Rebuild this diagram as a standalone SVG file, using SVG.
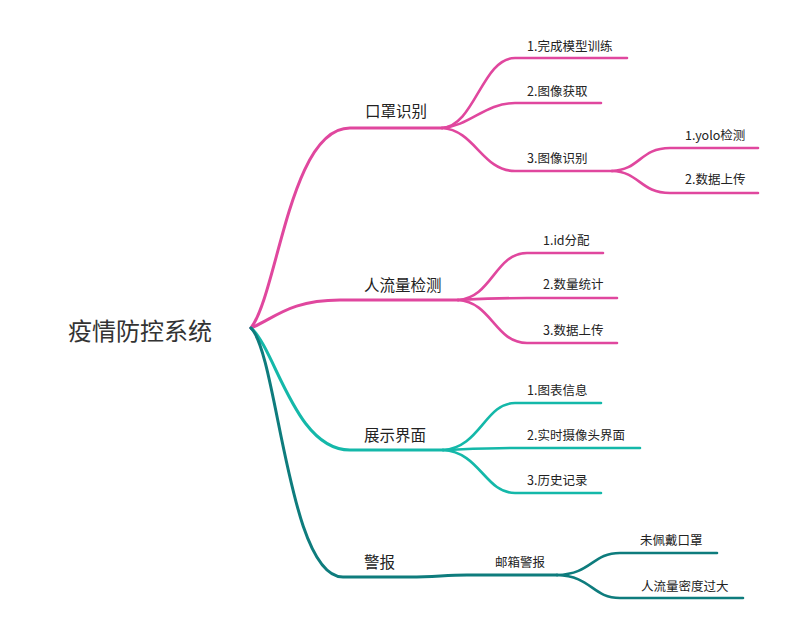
<svg xmlns="http://www.w3.org/2000/svg" width="786" height="629" viewBox="0 0 786 629">
<style>
  text { font-family: "Noto Sans CJK SC", "Noto Sans", sans-serif; fill: #222; }
  .root { font-size: 24px; fill: #333; }
  .l1 { font-size: 15.5px; }
  .l2 { font-size: 12.5px; }
  path { fill: none; stroke-linecap: round; }
  .pk { stroke: #E0479E; }
  .tl { stroke: #14B8A9; }
  .dt { stroke: #0E7C7D; }
  .w1 { stroke-width: 3; }
  .w2 { stroke-width: 2.6; }
</style>
<rect width="786" height="629" fill="#ffffff"/>
<g id="connectors">
  <path class="pk w1" d="M251 328 C278 292, 290 128, 350 128 L442 128"/>
  <path class="pk w1" d="M251 328 C275 318, 290 300, 340 300 L458 300"/>
  <path class="tl w1" d="M251 328 C276 350, 295 450, 350 450 L443 450"/>
  <path class="dt w1" d="M251 328 C278 355, 288 577, 343 577 L410 577 C435 577, 445 575, 467 575 L557 575"/>
  <path class="pk w2" d="M442 128 C475 126, 482 58, 515 58 L627 58"/>
  <path class="pk w2" d="M442 128 C470 126, 485 103, 515 103 L601 103"/>
  <path class="pk w2" d="M442 128 C475 130, 482 171, 515 171 L612 171"/>
  <path class="pk w2" d="M612 171 C640 170, 640 148, 670 148 L758 148"/>
  <path class="pk w2" d="M612 171 C640 172, 640 193, 670 193 L758 193"/>
  <path class="pk w2" d="M458 300 C492 298, 495 253, 527 253 L603 253"/>
  <path class="pk w2" d="M458 300 C480 299, 500 298, 527 298 L617 298"/>
  <path class="pk w2" d="M458 300 C492 302, 495 343, 527 343 L617 343"/>
  <path class="tl w2" d="M443 450 C480 448, 485 403, 515 403 L601 403"/>
  <path class="tl w2" d="M443 450 C470 449, 490 448, 515 448 L640 448"/>
  <path class="tl w2" d="M443 450 C480 452, 485 493, 515 493 L601 493"/>
  <path class="dt w2" d="M557 575 C592 574, 592 553, 620 553 L717 553"/>
  <path class="dt w2" d="M557 575 C592 576, 592 598, 620 598 L743 598"/>
</g>
<g id="root"><text class="root" x="68" y="340">疫情防控系统</text></g>
<g id="n-kouzhao"><text class="l1" x="365" y="117">口罩识别</text></g>
<g id="n-k1"><text class="l2" x="527" y="51">1.完成模型训练</text></g>
<g id="n-k2"><text class="l2" x="527" y="96">2.图像获取</text></g>
<g id="n-k3"><text class="l2" x="527" y="163">3.图像识别</text></g>
<g id="n-k31"><text class="l2" x="685" y="140">1.yolo检测</text></g>
<g id="n-k32"><text class="l2" x="685" y="184">2.数据上传</text></g>
<g id="n-renliu"><text class="l1" x="364" y="291">人流量检测</text></g>
<g id="n-r1"><text class="l2" x="543" y="245">1.id分配</text></g>
<g id="n-r2"><text class="l2" x="543" y="289">2.数量统计</text></g>
<g id="n-r3"><text class="l2" x="543" y="335">3.数据上传</text></g>
<g id="n-zhanshi"><text class="l1" x="364" y="441">展示界面</text></g>
<g id="n-z1"><text class="l2" x="527" y="395">1.图表信息</text></g>
<g id="n-z2"><text class="l2" x="527" y="440">2.实时摄像头界面</text></g>
<g id="n-z3"><text class="l2" x="527" y="485">3.历史记录</text></g>
<g id="n-jingbao"><text class="l1" x="364" y="568">警报</text></g>
<g id="n-youxiang"><text class="l2" x="495" y="567">邮箱警报</text></g>
<g id="n-y1"><text class="l2" x="640" y="545">未佩戴口罩</text></g>
<g id="n-y2"><text class="l2" x="641" y="591">人流量密度过大</text></g>
</svg>
